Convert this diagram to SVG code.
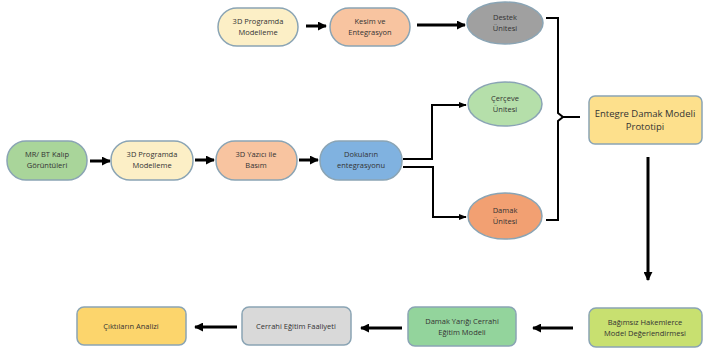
<svg xmlns="http://www.w3.org/2000/svg" width="704" height="353" viewBox="0 0 704 353">
<defs>
<style>
text{font-family:"Open Sans","Liberation Sans",sans-serif;font-size:7.5px;fill:#333;text-anchor:middle}
.big{font-size:9.5px}
.n{stroke:#8aa4b4;stroke-width:1.5}
.c{fill:none;stroke:#000;stroke-width:3}
.t{fill:none;stroke:#000;stroke-width:2}
</style>
<marker id="ah" viewBox="0 0 10 10" refX="9" refY="5" markerWidth="3" markerHeight="3" orient="auto" markerUnits="strokeWidth"><path d="M0,0 L10,5 L0,10 z" fill="#000"/></marker>
<marker id="ah2" viewBox="0 0 10 10" refX="9" refY="5" markerWidth="4" markerHeight="4" orient="auto" markerUnits="strokeWidth"><path d="M0,1 L10,5 L0,9 z" fill="#000"/></marker>
</defs>
<rect width="704" height="353" fill="#fff"/>
<g id="connectors">
<line class="c" x1="306" y1="26" x2="326" y2="26" marker-end="url(#ah)"/>
<line class="c" x1="417" y1="25" x2="465" y2="25" marker-end="url(#ah)"/>
<line class="c" x1="90" y1="161" x2="110" y2="161" marker-end="url(#ah)"/>
<line class="c" x1="195" y1="160" x2="214" y2="160" marker-end="url(#ah)"/>
<line class="c" x1="299" y1="160" x2="318" y2="160" marker-end="url(#ah)"/>
<polyline class="t" points="403,159 432,159 432,105 466,105" marker-end="url(#ah2)"/>
<polyline class="t" points="403,167 433,167 433,217 466,217" marker-end="url(#ah2)"/>
<polyline class="t" points="546,18 558,18 558,113 563,117 580,117"/>
<polyline class="t" points="546,220 558,220 558,121 563,117"/>
<line class="c" x1="648" y1="157" x2="648" y2="280" marker-end="url(#ah)"/>
<line class="c" x1="573" y1="328" x2="533" y2="328" marker-end="url(#ah)"/>
<line class="c" x1="402" y1="328" x2="361" y2="328" marker-end="url(#ah)"/>
<line class="c" x1="237" y1="327" x2="195" y2="327" marker-end="url(#ah)"/>
</g>
<g id="n_top3d"><rect class="n" x="218" y="8" width="80" height="38" rx="19" fill="#fcefc6"/><text x="258" y="24">3D Programda</text><text x="258" y="35">Modelleme</text></g>
<g id="n_kesim"><rect class="n" x="330" y="8" width="80" height="38" rx="19" fill="#f8c4a0"/><text x="370" y="24">Kesim ve</text><text x="370" y="35">Entegrasyon</text></g>
<g id="n_destek"><ellipse class="n" cx="505" cy="23" rx="38" ry="21" fill="#a0a0a0"/><text x="505" y="20">Destek</text><text x="505" y="31">Ünitesi</text></g>
<g id="n_cerceve"><ellipse class="n" cx="505" cy="104" rx="37" ry="22" fill="#b5dfaa"/><text x="505" y="101">Çerçeve</text><text x="505" y="112">Ünitesi</text></g>
<g id="n_damak"><ellipse class="n" cx="505" cy="216" rx="37" ry="23" fill="#f2a072"/><text x="505" y="213">Damak</text><text x="505" y="224">Ünitesi</text></g>
<g id="n_mr"><rect class="n" x="7" y="141" width="80" height="39" rx="19" fill="#a9d59a"/><text x="47" y="157">MR/ BT Kalıp</text><text x="47" y="168">Görüntüleri</text></g>
<g id="n_3d"><rect class="n" x="111" y="141" width="82" height="39" rx="19" fill="#fcefc6"/><text x="152" y="157">3D Programda</text><text x="152" y="168">Modelleme</text></g>
<g id="n_yazici"><rect class="n" x="216" y="141" width="81" height="39" rx="19" fill="#f8c4a0"/><text x="256" y="157">3D Yazıcı ile</text><text x="256" y="168">Basım</text></g>
<g id="n_doku"><rect class="n" x="320" y="141" width="82" height="39" rx="19" fill="#80b2e0"/><text x="361" y="157">Dokuların</text><text x="361" y="168">entegrasyonu</text></g>
<g id="n_entegre"><rect class="n" x="589" y="96" width="113" height="48" rx="6" fill="#fde08c"/><text class="big" x="645" y="117">Entegre Damak Modeli</text><text class="big" x="645" y="130">Prototipi</text></g>
<g id="n_bagimsiz"><rect class="n" x="589" y="308" width="113" height="39" rx="7" fill="#c8e070"/><text x="645" y="325">Bağımsız Hakemlerce</text><text x="645" y="336">Model Değerlendirmesi</text></g>
<g id="n_yarik"><rect class="n" x="408" y="307" width="108" height="39" rx="7" fill="#93d49c"/><text x="462" y="324">Damak Yarığı Cerrahi</text><text x="462" y="335">Eğitim Modeli</text></g>
<g id="n_cerrahi"><rect class="n" x="242" y="307" width="109" height="38" rx="7" fill="#d9d9d9"/><text x="296" y="329">Cerrahi Eğitim Faaliyeti</text></g>
<g id="n_cikti"><rect class="n" x="77" y="307" width="109" height="38" rx="7" fill="#fcd56c"/><text x="131" y="329">Çıktıların Analizi</text></g>
</svg>
